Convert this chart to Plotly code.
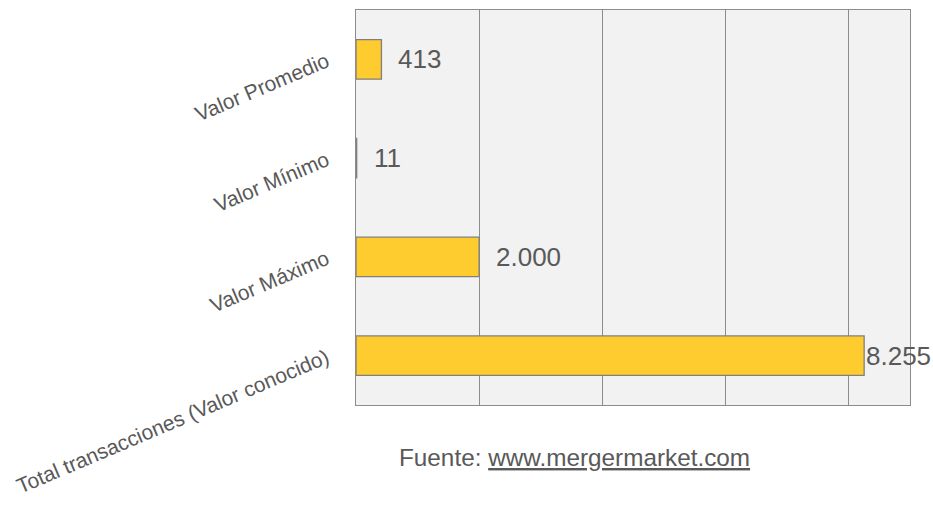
import plotly.graph_objects as go

categories = ["Valor Promedio", "Valor Mínimo", "Valor Máximo", "Total transacciones (Valor conocido)"]
values = [413, 11, 2000, 8255]

FONT = "Arial, Liberation Sans, sans-serif"
TXT = "#595959"

fig = go.Figure()
fig.add_trace(go.Bar(
    x=values, y=categories, orientation="h",
    marker=dict(color="#FFCC2F", line=dict(color="#7F7F7F", width=1.3)),
    width=0.4, hoverinfo="skip",
))

annotations = []
vmax = max(values)
for v, c in zip(values, categories):
    annotations.append(dict(
        x=v, y=c, xref="x", yref="y", text=f"{v:,}".replace(",", "."),
        showarrow=False, xanchor="left", yanchor="middle",
        xshift=0 if v == vmax else 15,
        font=dict(family=FONT, size=26, color=TXT),
    ))
annotations.append(dict(
    x=0.395, y=-0.134, xref="paper", yref="paper",
    text="Fuente: <u>www.mergermarket.com</u>", showarrow=False,
    xanchor="center", yanchor="middle",
    font=dict(family=FONT, size=24.3, color=TXT),
))

fig.update_layout(
    width=933, height=507,
    margin=dict(l=356, r=23, t=10, b=102),
    paper_bgcolor="white", plot_bgcolor="#F2F2F2",
    showlegend=False,
    separators=",.",
    annotations=annotations,
    font=dict(family=FONT, color=TXT),
)
fig.update_xaxes(
    range=[0, 9000], dtick=2000, showticklabels=False,
    showgrid=True, gridcolor="#8C8C8C", gridwidth=1.3,
    showline=True, linecolor="#8C8C8C", linewidth=1.3, mirror=True,
    zeroline=False, fixedrange=True,
)
fig.update_yaxes(
    autorange="reversed", showgrid=False,
    showline=True, linecolor="#8C8C8C", linewidth=1.3, mirror=True,
    tickangle=-23, tickfont=dict(family=FONT, size=21, color=TXT),
    ticks="", ticklabelstandoff=24, automargin=False, fixedrange=True,
)

fig.write_html(
    "out.html",
    config={"displayModeBar": False},
    post_script="document.body.style.margin='0';document.body.style.overflow='hidden';",
)
